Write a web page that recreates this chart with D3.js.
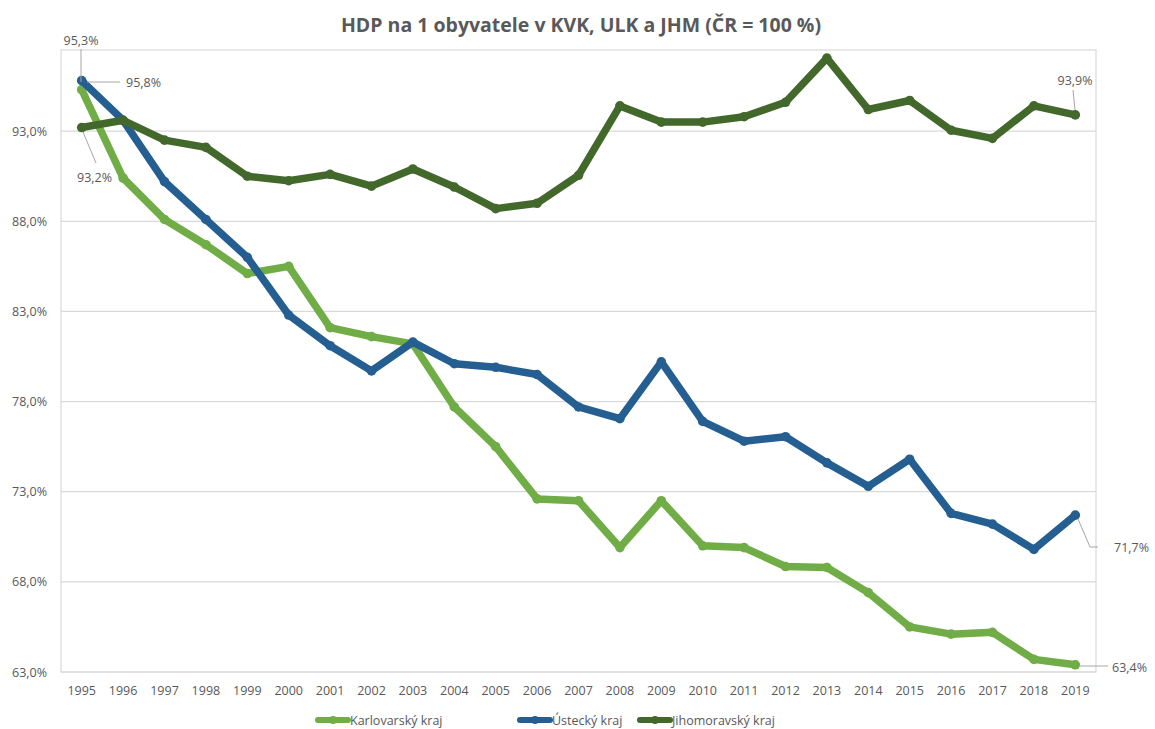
<!DOCTYPE html>
<html>
<head>
<meta charset="utf-8">
<script src="https://cdn.jsdelivr.net/npm/d3@7"></script>
<style>
  body { margin: 0; background: #fff; }
  text { font-family: 'Open Sans', 'Noto Sans', sans-serif; }
</style>
</head>
<body>
<div id="chart"></div>
<script>
const years = ['1995', '1996', '1997', '1998', '1999', '2000', '2001', '2002', '2003', '2004',
  '2005', '2006', '2007', '2008', '2009', '2010', '2011', '2012', '2013', '2014',
  '2015', '2016', '2017', '2018', '2019']

const karlovarsky = [95.3, 90.4, 88.1, 86.7, 85.1, 85.5, 82.1, 81.6, 81.2, 77.7,
  75.5, 72.6, 72.5, 69.9, 72.5, 70.0, 69.9, 68.85, 68.8, 67.4,
  65.5, 65.1, 65.2, 63.7, 63.4]

const ustecky = [95.8, 93.6, 90.2, 88.1, 86.0, 82.8, 81.1, 79.7, 81.3, 80.1,
  79.9, 79.5, 77.7, 77.05, 80.2, 76.9, 75.8, 76.05, 74.6, 73.3,
  74.8, 71.8, 71.2, 69.8, 71.7]

const jihomoravsky = [93.2, 93.6, 92.5, 92.1, 90.5, 90.25, 90.6, 89.95, 90.9, 89.9,
  88.7, 89.0, 90.55, 94.4, 93.5, 93.5, 93.8, 94.6, 97.05, 94.2,
  94.7, 93.05, 92.6, 94.4, 93.9]

const seriesNames = ['Karlovarský kraj', 'Ústecký kraj', 'Jihomoravský kraj']
const seriesColors = ['#70AD47', '#255E91', '#43682B']
const yTicks = [63, 68, 73, 78, 83, 88, 93]

const width = 1155
const height = 729
const plot = { left: 61, right: 1096, top: 50, bottom: 672 }
const textColor = '#595959'
const gridColor = '#D9D9D9'

const svg = d3.select('#chart')
  .append('svg')
  .attr('width', width)
  .attr('height', height)

const x = d3.scaleBand()
  .domain(years)
  .range([plot.left, plot.right])

const y = d3.scaleLinear()
  .domain([63, 97.5])
  .range([plot.bottom, plot.top])

const xc = d => x(d) + x.bandwidth() / 2

// title
svg.append('text')
  .attr('x', 581)
  .attr('y', 32)
  .attr('text-anchor', 'middle')
  .attr('font-size', 19.5)
  .attr('font-weight', 'bold')
  .attr('fill', textColor)
  .text('HDP na 1 obyvatele v KVK, ULK a JHM (ČR = 100 %)')

// gridlines
svg.append('g')
  .selectAll('line')
  .data(yTicks)
  .enter()
  .append('line')
  .attr('x1', plot.left)
  .attr('x2', plot.right)
  .attr('y1', d => y(d))
  .attr('y2', d => y(d))
  .attr('stroke', gridColor)
  .attr('stroke-width', 1.2)

// plot border
svg.append('rect')
  .attr('x', plot.left)
  .attr('y', plot.top)
  .attr('width', plot.right - plot.left)
  .attr('height', plot.bottom - plot.top)
  .attr('fill', 'none')
  .attr('stroke', gridColor)
  .attr('stroke-width', 1.2)

// y axis
const yAxis = svg.append('g')
  .attr('transform', `translate(${plot.left},0)`)
  .call(d3.axisLeft(y)
    .tickValues(yTicks)
    .tickSize(0)
    .tickPadding(14)
    .tickFormat(d => d3.format('.1f')(d).replace('.', ',') + '%'))
yAxis.select('.domain').remove()
yAxis.selectAll('text')
  .attr('font-size', 12.5)
  .attr('fill', textColor)
  .attr('font-family', "'Open Sans', sans-serif")

// x axis
const xAxis = svg.append('g')
  .attr('transform', `translate(0,${plot.bottom})`)
  .call(d3.axisBottom(x).tickSize(0).tickPadding(14))
xAxis.select('.domain').remove()
xAxis.selectAll('text')
  .attr('font-size', 12.5)
  .attr('fill', textColor)
  .attr('font-family', "'Open Sans', sans-serif")

// lines
const allSeries = [karlovarsky, ustecky, jihomoravsky]
const line = d3.line()
  .x((d, i) => xc(years[i]))
  .y(d => y(d))

allSeries.forEach((values, s) => {
  svg.append('path')
    .datum(values)
    .attr('d', line)
    .attr('fill', 'none')
    .attr('stroke', seriesColors[s])
    .attr('stroke-width', 7.5)
    .attr('stroke-linejoin', 'round')

  svg.append('g')
    .selectAll('circle')
    .data(values)
    .enter()
    .append('circle')
    .attr('cx', (d, i) => xc(years[i]))
    .attr('cy', d => y(d))
    .attr('r', 4.8)
    .attr('fill', seriesColors[s])
})

// data labels with leader lines
const fmt = v => d3.format('.1f')(v).replace('.', ',') + '%'
const last = years.length - 1
const labels = [
  { v: karlovarsky[0], lx: 81, ly: 45, anchor: 'middle', leader: [[81, 49], [81, 82]] },
  { v: ustecky[0], lx: 126, ly: 87, anchor: 'start', leader: [[87, 82], [120, 82]] },
  { v: jihomoravsky[0], lx: 77, ly: 182, anchor: 'start', leader: [[83, 132], [96, 163]] },
  { v: jihomoravsky[last], lx: 1075, ly: 85, anchor: 'middle', leader: [[1073, 90], [1075, 110]] },
  { v: ustecky[last], lx: 1114, ly: 552, anchor: 'start', leader: [[1078, 519], [1090, 547], [1098, 547]] },
  { v: karlovarsky[last], lx: 1112, ly: 672, anchor: 'start', leader: [[1080, 666], [1108, 666]] }
]

const labelG = svg.append('g')
labels.forEach(l => {
  labelG.append('path')
    .attr('d', d3.line()(l.leader))
    .attr('fill', 'none')
    .attr('stroke', '#A6A6A6')
    .attr('stroke-width', 1)
  labelG.append('text')
    .attr('x', l.lx)
    .attr('y', l.ly)
    .attr('text-anchor', l.anchor)
    .attr('font-size', 12.5)
    .attr('fill', textColor)
    .text(fmt(l.v))
})

// legend
const legendX = [318, 520, 640]
const legend = svg.append('g')
seriesNames.forEach((name, i) => {
  const g = legend.append('g').attr('transform', `translate(${legendX[i]},720)`)
  g.append('line')
    .attr('x1', 0)
    .attr('x2', 30)
    .attr('stroke', seriesColors[i])
    .attr('stroke-width', 6)
    .attr('stroke-linecap', 'round')
  g.append('circle')
    .attr('cx', 15)
    .attr('r', 4)
    .attr('fill', seriesColors[i])
  g.append('text')
    .attr('x', 32)
    .attr('y', 4.5)
    .attr('font-size', 12.5)
    .attr('fill', textColor)
    .text(name)
})
</script>
</body>
</html>
